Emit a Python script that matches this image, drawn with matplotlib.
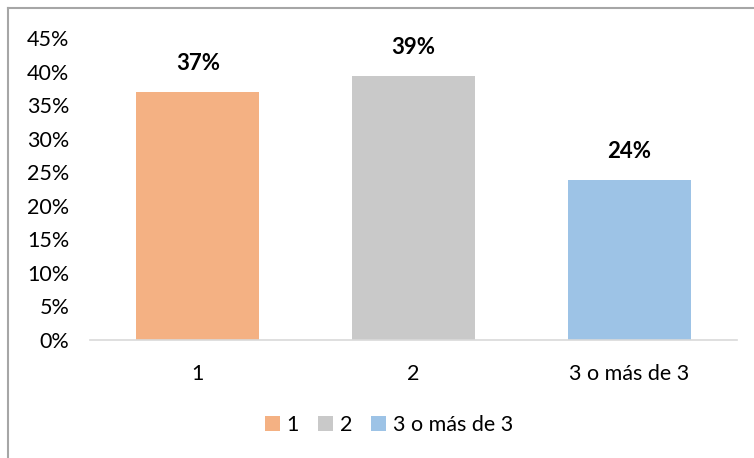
import matplotlib
matplotlib.use("Agg")
import matplotlib.pyplot as plt
from matplotlib.patches import Patch
from matplotlib.lines import Line2D
from matplotlib.ticker import PercentFormatter

categories = ["1", "2", "3 o más de 3"]
values = [0.37, 0.394, 0.239]
labels = ["37%", "39%", "24%"]
colors = ["#F4B183", "#C9C9C9", "#9DC3E6"]
yticks = [0, 0.05, 0.10, 0.15, 0.20, 0.25, 0.30, 0.35, 0.40, 0.45]

plt.rcParams['font.family'] = ['Lato', 'DejaVu Sans']

fig = plt.figure(figsize=(7.54, 4.58), dpi=100)
ax = fig.add_axes([90/754, 1-340/458, (737-90)/754, (340-38)/458])

x = list(range(len(categories)))
bars = ax.bar(x, values, width=0.57, color=colors)
for xi, v, lab in zip(x, values, labels):
    ax.annotate(lab, (xi, v), xytext=(0, 13), textcoords="offset points",
                ha="center", va="bottom", fontsize=16, fontweight="bold", color="#000000")

ax.set_xlim(-0.5, 2.5)
ax.set_ylim(0, 0.45)
ax.set_yticks(yticks)
ax.yaxis.set_major_formatter(PercentFormatter(1.0, decimals=0))
ax.set_xticks(x)
ax.set_xticklabels(categories)
ax.tick_params(axis="both", length=0, labelsize=15.5, colors="#000000")
ax.tick_params(axis="y", pad=15)
ax.tick_params(axis="x", pad=17)
for s in ["top", "right", "left"]:
    ax.spines[s].set_visible(False)
ax.spines["bottom"].set_color("#D9D9D9")
ax.spines["bottom"].set_linewidth(1.2)

handles = [Patch(facecolor=c, edgecolor="none") for c in colors]
fig.legend(handles, categories, loc="center", bbox_to_anchor=(389/754, 1-425/458),
           ncol=3, frameon=False, fontsize=15.5, handlelength=0.7, handleheight=0.7,
           handletextpad=0.3, columnspacing=0.9)

# outer chart border (top and left visible)
fig.add_artist(Line2D([8/754, 8/754], [0, 1-8/458], transform=fig.transFigure,
                      color="#A6A6A6", linewidth=1.5))
fig.add_artist(Line2D([8/754, 1], [1-8/458, 1-8/458], transform=fig.transFigure,
                      color="#A6A6A6", linewidth=1.5))

fig.savefig("out.png", dpi=100)
